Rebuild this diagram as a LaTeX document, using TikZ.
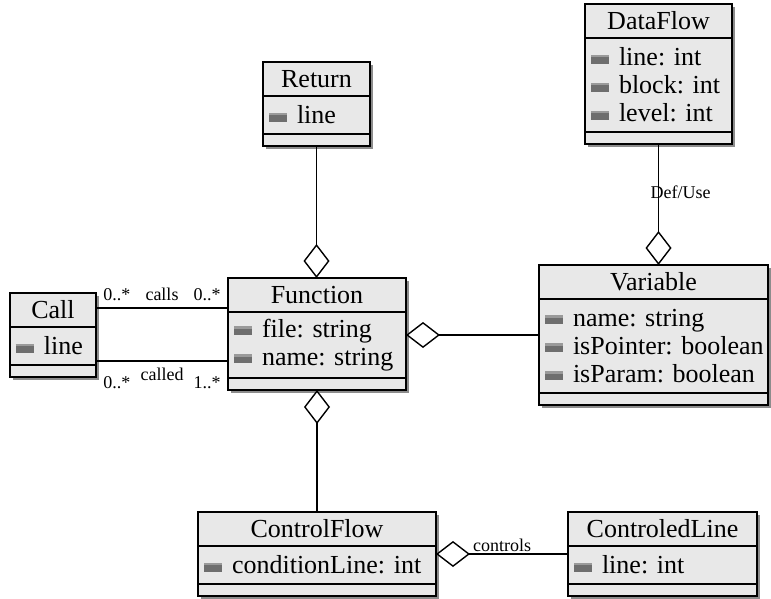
\documentclass[tikz,border=0pt]{standalone}
\usepackage{fontspec}
\setmainfont{Liberation Serif}
\frenchspacing
\usetikzlibrary{arrows.meta, positioning, shadows, fit}
\definecolor{classfill}{HTML}{E8E8E8}
\definecolor{icongray}{HTML}{6E6E6E}
\definecolor{icontop}{HTML}{9A9A9A}
\tikzset{
    classhead/.style={rectangle, draw, fill=classfill, line width=0.7pt, inner sep=0pt, outer sep=0pt, minimum height=17pt, font=\fontsize{13}{14}\selectfont, drop shadow={shadow xshift=1.5pt, shadow yshift=-1.5pt, opacity=1, fill=black!45}},
    classattr/.style={classhead, align=left},
    classfoot/.style={classhead, minimum height=6pt},
    aggr/.style={line width=0.7pt, -{Diamond[open, length=17pt, width=13pt]}},
    assoc/.style={line width=0.7pt},
    role/.style={font=\fontsize{9}{10}\selectfont}
}
\newcommand{\attricon}{\hspace*{3pt}\rlap{\color{icongray}\rule[1pt]{9pt}{4.5pt}}{\color{icontop}\rule[4.3pt]{9pt}{1.2pt}}\hspace{5pt}}
% name, top left, width, title, attribute height, attributes
\newcommand{\umlclass}[6]{%
    \node[classhead, minimum width=#3, anchor=north west] (#1-h) at (#2) {#4};
    \node[classattr, minimum width=#3, text width=#3, minimum height=#5, below=0pt of #1-h] (#1-a) {#6};
    \node[classfoot, minimum width=#3, below=0pt of #1-a] (#1-f) {};
    \node[fit=(#1-h) (#1-f), inner sep=0pt, outer sep=0pt] (#1) {};
}
\begin{document}
\begin{tikzpicture}[x=0.5pt, y=-0.5pt]
    \useasboundingbox (0,0) rectangle (771,599);

    % Classes
    \umlclass{ret}{263,62}{53.5pt}{Return}{19pt}{\attricon line}
    \umlclass{df}{585,4}{73.5pt}{DataFlow}{47pt}{\attricon line: int\\\attricon block: int\\\attricon level: int}
    \umlclass{var}{539,265}{114.5pt}{Variable}{47pt}{\attricon name: string\\\attricon isPointer: boolean\\\attricon isParam: boolean}
    \umlclass{fun}{228,278}{89pt}{Function}{33pt}{\attricon file: string\\\attricon name: string}
    \umlclass{call}{10,293}{43pt}{Call}{19pt}{\attricon line}
    \umlclass{cf}{198,512}{119pt}{ControlFlow}{19pt}{\attricon conditionLine: int}
    \umlclass{cl}{568,512}{94.5pt}{ControledLine}{19pt}{\attricon line: int}

    % Aggregations
    \draw [aggr] (ret.south) -- (ret.south |- fun.north);
    \draw [aggr] (cf.north) -- (cf.north |- fun.south);
    \draw [aggr] (var.west) -- (var.west -| fun.east);
    \draw [aggr] (df.south) -- node[role, pos=0.4, xshift=11pt] {Def/Use} (df.south |- var.north);
    \draw [aggr] (cl.west) -- node[role, midway, above, inner sep=1pt] {controls} (cl.west -| cf.east);

    % Call associations
    \coordinate (callsL) at ([yshift=13.5pt]call.east);
    \coordinate (calledL) at ([yshift=-13pt]call.east);
    \draw [assoc] (callsL) -- (callsL -| fun.west)
        node[role, pos=0, anchor=south west] {0..*}
        node[role, midway, above] {calls}
        node[role, pos=1, anchor=south east] {0..*};
    \draw [assoc] (calledL) -- (calledL -| fun.west)
        node[role, pos=0, anchor=north west, yshift=-4pt] {0..*}
        node[role, midway, below] {called}
        node[role, pos=1, anchor=north east, yshift=-4pt] {1..*};

\end{tikzpicture}
\end{document}
